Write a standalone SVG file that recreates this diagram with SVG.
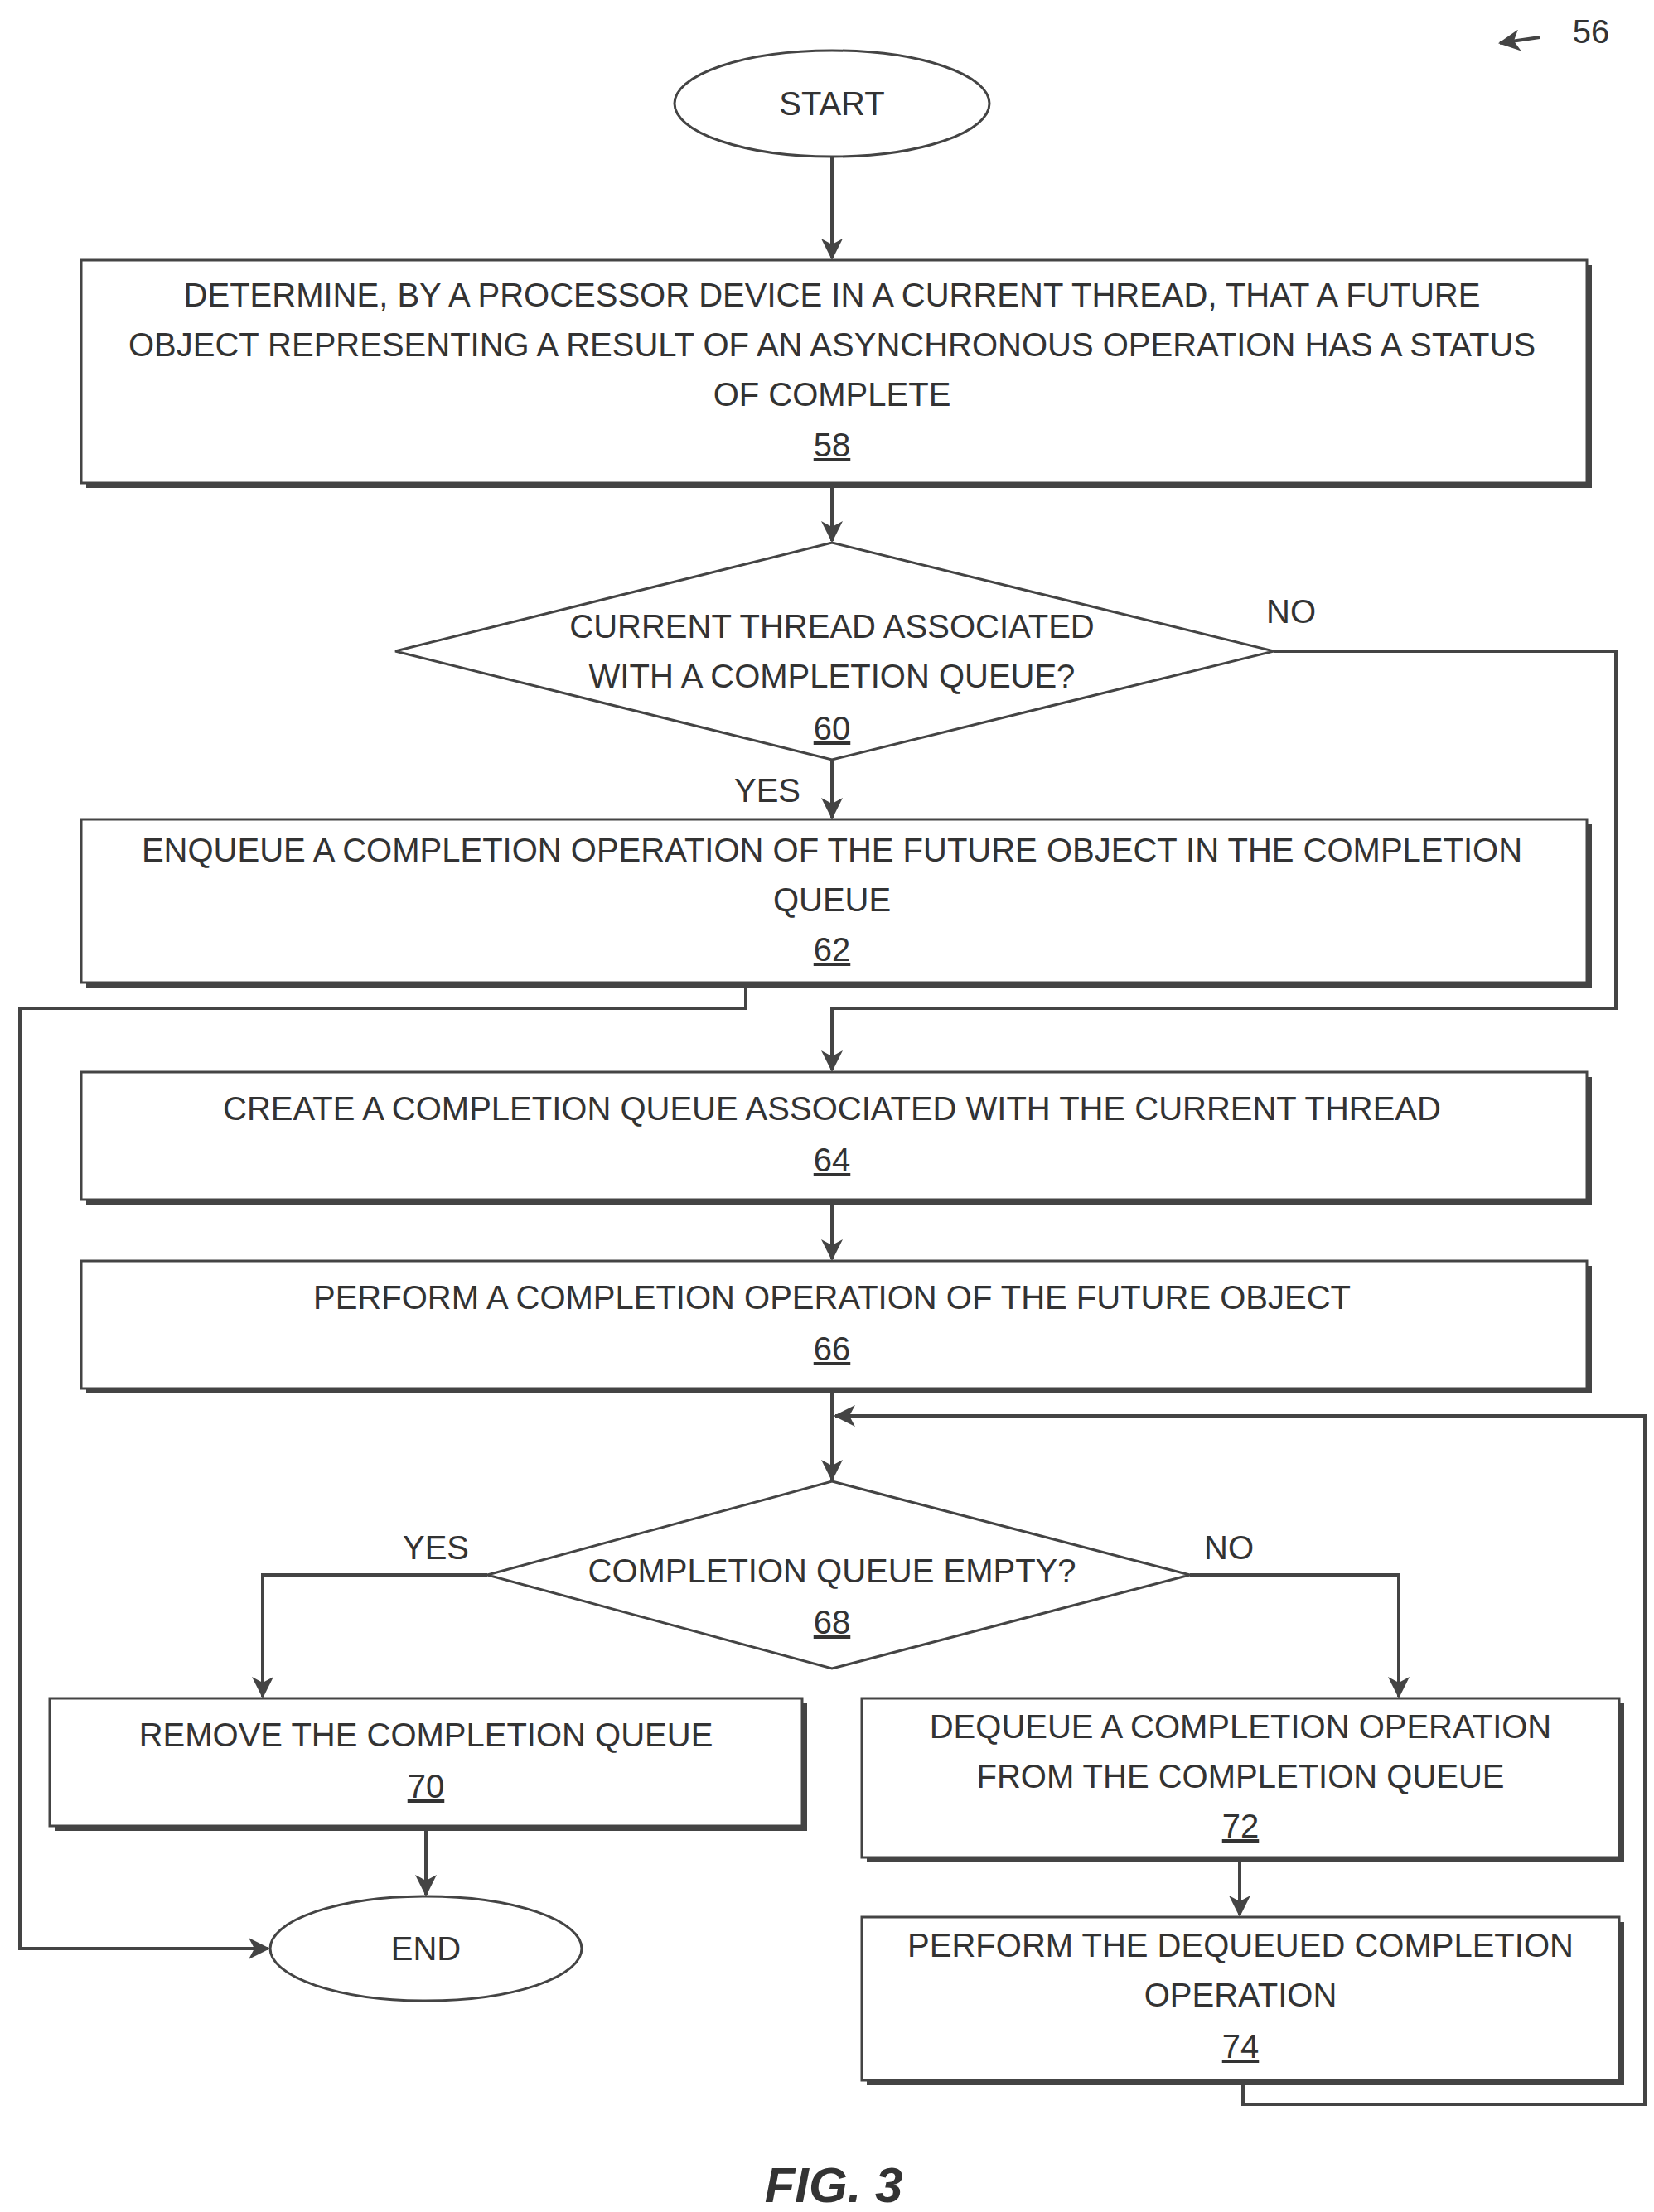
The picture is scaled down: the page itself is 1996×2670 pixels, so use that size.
<svg xmlns="http://www.w3.org/2000/svg" width="1996" height="2670" viewBox="0 0 1996 2670">
<style>
text{font-family:"Liberation Sans",Arial,sans-serif;font-size:40px;fill:#333;text-anchor:middle}
.n{text-decoration:underline}
.s{fill:#444;stroke:none}
.b{fill:#fff;stroke:#444;stroke-width:3}
.c{fill:none;stroke:#444;stroke-width:4}
</style>
<defs><marker id="a" markerWidth="10" markerHeight="10" refX="9" refY="5" orient="auto" markerUnits="userSpaceOnUse" viewBox="0 0 10 10"><path d="M0,0L10,5L0,10z" fill="#444"/></marker>
<marker id="ah" markerWidth="26" markerHeight="26" refX="24" refY="13" orient="auto" markerUnits="userSpaceOnUse"><path d="M0,0L26,13L0,26L7,13z" fill="#444"/></marker></defs>
<rect width="1996" height="2670" fill="#fff"/>
<g id="connectors">
<path class="c" d="M1004,188V312" marker-end="url(#ah)"/>
<path class="c" d="M1004,583V653" marker-end="url(#ah)"/>
<path class="c" d="M1537,786H1950V1217H1004V1292" marker-end="url(#ah)"/>
<path class="c" d="M1004,917V987" marker-end="url(#ah)"/>
<path class="c" d="M900,1186V1217H24V2352H324" marker-end="url(#ah)"/>
<path class="c" d="M1004,1448V1520" marker-end="url(#ah)"/>
<path class="c" d="M1004,1676V1786" marker-end="url(#ah)"/>
<path class="c" d="M588,1901H317V2048" marker-end="url(#ah)"/>
<path class="c" d="M1436,1901H1688V2048" marker-end="url(#ah)"/>
<path class="c" d="M514,2204V2287" marker-end="url(#ah)"/>
<path class="c" d="M1496,2242V2312" marker-end="url(#ah)"/>
<path class="c" d="M1500,2511V2540H1985V1709H1008" marker-end="url(#ah)"/>
<path class="c" d="M1858,45L1810,52" marker-end="url(#ah)"/>
</g>
<text x="1920" y="52">56</text>
<g id="start"><ellipse class="b" cx="1004" cy="125" rx="190" ry="64"/><text x="1004" y="139">START</text></g>
<g id="n58"><rect class="s" x="104" y="320" width="1817" height="269"/><rect class="b" x="98" y="314" width="1817" height="269"/>
<text x="1004" y="370">DETERMINE, BY A PROCESSOR DEVICE IN A CURRENT THREAD, THAT A FUTURE</text>
<text x="1004" y="430">OBJECT REPRESENTING A RESULT OF AN ASYNCHRONOUS OPERATION HAS A STATUS</text>
<text x="1004" y="490">OF COMPLETE</text><text class="n" x="1004" y="551">58</text></g>
<g id="n60"><path class="b" d="M1004,655L1537,786L1004,917L477,786Z"/>
<text x="1004" y="770">CURRENT THREAD ASSOCIATED</text><text x="1004" y="830">WITH A COMPLETION QUEUE?</text><text class="n" x="1004" y="893">60</text></g>
<text x="1558" y="752">NO</text><text x="926" y="968">YES</text>
<g id="n62"><rect class="s" x="104" y="995" width="1817" height="197"/><rect class="b" x="98" y="989" width="1817" height="197"/>
<text x="1004" y="1040">ENQUEUE A COMPLETION OPERATION OF THE FUTURE OBJECT IN THE COMPLETION</text>
<text x="1004" y="1100">QUEUE</text><text class="n" x="1004" y="1160">62</text></g>
<g id="n64"><rect class="s" x="104" y="1300" width="1817" height="154"/><rect class="b" x="98" y="1294" width="1817" height="154"/>
<text x="1004" y="1352">CREATE A COMPLETION QUEUE ASSOCIATED WITH THE CURRENT THREAD</text><text class="n" x="1004" y="1414">64</text></g>
<g id="n66"><rect class="s" x="104" y="1528" width="1817" height="154"/><rect class="b" x="98" y="1522" width="1817" height="154"/>
<text x="1004" y="1580">PERFORM A COMPLETION OPERATION OF THE FUTURE OBJECT</text><text class="n" x="1004" y="1642">66</text></g>
<g id="n68"><path class="b" d="M1004,1788L1436,1901L1004,2014L588,1901Z"/>
<text x="1004" y="1910">COMPLETION QUEUE EMPTY?</text><text class="n" x="1004" y="1972">68</text></g>
<text x="526" y="1882">YES</text><text x="1483" y="1882">NO</text>
<g id="n70"><rect class="s" x="66" y="2056" width="908" height="154"/><rect class="b" x="60" y="2050" width="908" height="154"/>
<text x="514" y="2108">REMOVE THE COMPLETION QUEUE</text><text class="n" x="514" y="2170">70</text></g>
<g id="n72"><rect class="s" x="1046" y="2056" width="914" height="192"/><rect class="b" x="1040" y="2050" width="914" height="192"/>
<text x="1497" y="2098">DEQUEUE A COMPLETION OPERATION</text><text x="1497" y="2158">FROM THE COMPLETION QUEUE</text><text class="n" x="1497" y="2218">72</text></g>
<g id="n74"><rect class="s" x="1046" y="2320" width="914" height="197"/><rect class="b" x="1040" y="2314" width="914" height="197"/>
<text x="1497" y="2362">PERFORM THE DEQUEUED COMPLETION</text><text x="1497" y="2422">OPERATION</text><text class="n" x="1497" y="2484">74</text></g>
<g id="end"><ellipse class="b" cx="514" cy="2352" rx="188" ry="63"/><text x="514" y="2366">END</text></g>
<text x="1006" y="2658" style="font-size:60px;font-style:italic;font-weight:bold">FIG. 3</text>
</svg>
